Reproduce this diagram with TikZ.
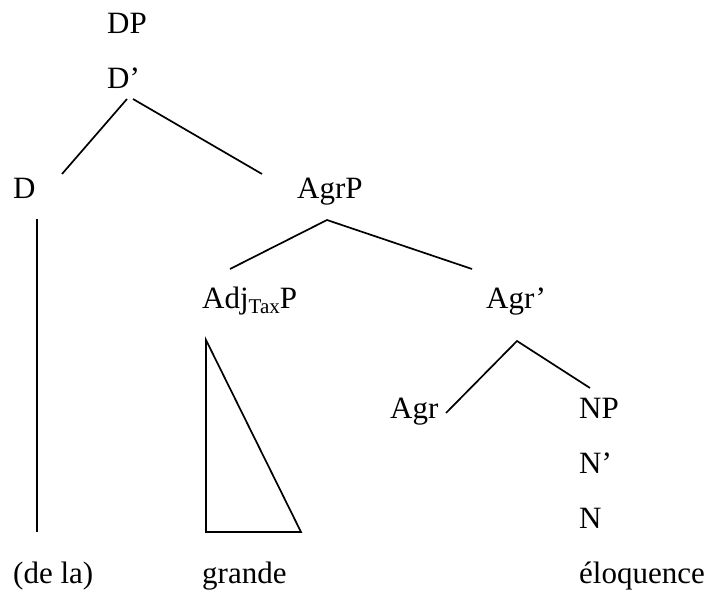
\documentclass[tikz,border=0pt]{standalone}
\usepackage{fontspec}
\setmainfont{Liberation Serif}

\tikzset{
    lbl/.style={anchor=base west, inner sep=0pt, font=\fontsize{31}{37}\selectfont},
    branch/.style={line width=1.7pt}
}
\newcommand{\subtax}{\raisebox{-5pt}{\fontsize{21}{25}\selectfont Tax}}

\begin{document}
\begin{tikzpicture}[x=1pt, y=-1pt]
    \useasboundingbox (0,0) rectangle (713,601);

    % Labels
    \node[lbl] (DP) at (107,34) {DP};
    \node[lbl] (Dbar) at (107,89) {D’};
    \node[lbl] (D) at (13,199) {D};
    \node[lbl] (AgrP) at (297,199) {AgrP};
    \node[lbl] (AdjP) at (202,309) {Adj\subtax P};
    \node[lbl] (Agrbar) at (486,309) {Agr’};
    \node[lbl] (Agr) at (390,419) {Agr};
    \node[lbl] (NP) at (579,419) {NP};
    \node[lbl] (Nbar) at (579,474) {N’};
    \node[lbl] (N) at (579,529) {N};
    \node[lbl] (dela) at (13,584) {(de la)};
    \node[lbl] (grande) at (202,584) {grande};
    \node[lbl] (eloq) at (579,584) {éloquence};

    % Branch ends
    \coordinate (Dbar-l) at (127,99);
    \coordinate (Dbar-r) at (133,99);
    \coordinate (D-in) at (62,174);
    \coordinate (AgrP-in) at (262,174);
    \coordinate (D-top) at (37,219);
    \coordinate (D-bot) at (37,532);
    \coordinate (AgrP-out) at (327,220);
    \coordinate (AdjP-in) at (230,269);
    \coordinate (Agrbar-in) at (472,269);
    \coordinate (tri-top) at (206,340);
    \coordinate (tri-left) at (206,532);
    \coordinate (tri-right) at (301,532);
    \coordinate (Agrbar-out) at (517,341);
    \coordinate (Agr-in) at (446,413);
    \coordinate (NP-in) at (590,388);

    % Draw the tree
    \draw[branch] (Dbar-l) -- (D-in);
    \draw[branch] (Dbar-r) -- (AgrP-in);
    \draw[branch] (D-top) -- (D-bot);
    \draw[branch] (AdjP-in) -- (AgrP-out) -- (Agrbar-in);
    \draw[branch] (tri-top) -- (tri-left) -- (tri-right) -- cycle;
    \draw[branch] (Agr-in) -- (Agrbar-out) -- (NP-in);
\end{tikzpicture}
\end{document}
